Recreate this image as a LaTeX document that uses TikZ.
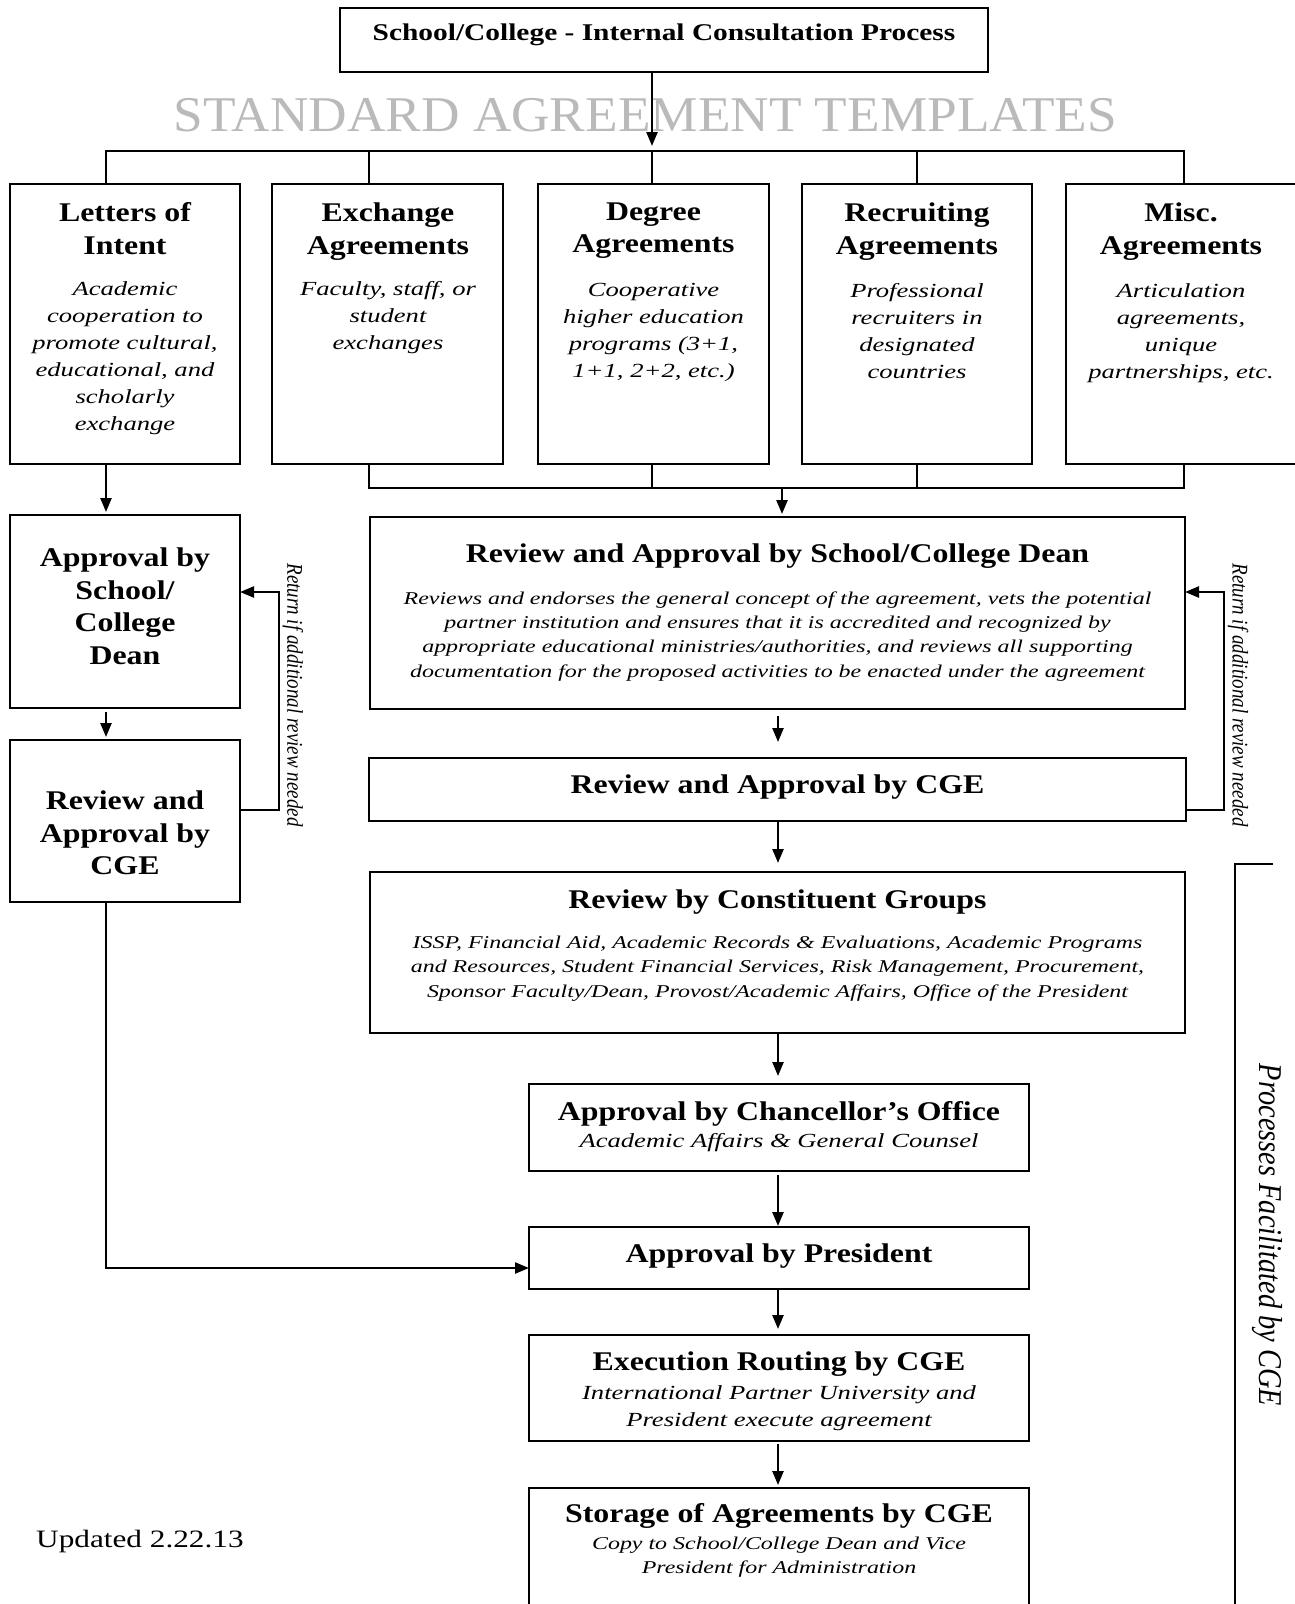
\documentclass[tikz,border=0pt]{standalone}
\usepackage{fontspec}
\setmainfont{Liberation Serif}
\newfontfamily\fTitle[FakeStretch=1.18]{Liberation Serif}
\newfontfamily\fHead[FakeStretch=1.225]{Liberation Serif}
\newfontfamily\fDesc[FakeStretch=1.33]{Liberation Serif}
\newfontfamily\fBig[FakeStretch=1.066]{Liberation Serif}
\newfontfamily\fUpd[FakeStretch=1.25]{Liberation Serif}
\usetikzlibrary{arrows.meta}
\begin{document}
\begin{tikzpicture}[x=1pt,y=-1pt,line width=2.4pt,
  box/.style={draw,line width=2.4pt,inner sep=0,outer sep=0,anchor=north west},
  arr/.style={-{Triangle[length=14pt,width=11pt]},line width=2.4pt},
  ttl/.style={font=\fTitle\bfseries\fontsize{27}{32.5}\selectfont,align=center,inner sep=0},
  dsc/.style={font=\fDesc\itshape\fontsize{20}{27}\selectfont,align=center,inner sep=0},
  dscs/.style={font=\fDesc\itshape\fontsize{18}{24.4}\selectfont,align=center,inner sep=0},
  rottxt/.style={rotate=-90,inner sep=0}]
\useasboundingbox (0,0) rectangle (1294,1604);
\fill[white] (0,0) rectangle (1294,1604);

% top box
\node[box,minimum width=648pt,minimum height=64pt] (top) at (340,8) {};
\node[font=\fHead\bfseries\fontsize{24}{28}\selectfont,inner sep=0,anchor=base] (toptxt) at (664,40.7) {School/College - Internal Consultation Process};
\node[font=\fBig\fontsize{50}{56}\selectfont,text=black!27,inner sep=0,anchor=base] (std) at (645.5,131) {STANDARD AGREEMENT TEMPLATES};

% category boxes
\node[box,minimum width=230pt,minimum height=280pt] (lt1) at (10,184) {};
\node[box,minimum width=231pt,minimum height=280pt] (lt2) at (272,184) {};
\node[box,minimum width=231pt,minimum height=280pt] (lt3) at (538,184) {};
\node[box,minimum width=230pt,minimum height=280pt] (lt4) at (802,184) {};
\node[box,minimum width=232pt,minimum height=280pt] (lt5) at (1066,184) {};

\node[ttl,anchor=north] (lt1t) at (125,201.6) {Letters of\\Intent};
\node[dsc,anchor=north] (lt1d) at (125,280.3) {Academic\\cooperation to\\promote cultural,\\educational, and\\scholarly\\exchange};
\node[ttl,anchor=north] (lt2t) at (388,201.6) {Exchange\\Agreements};
\node[dsc,anchor=north] (lt2d) at (388,280.3) {Faculty, staff, or\\student\\exchanges};
\node[ttl,anchor=north] (lt3t) at (653.5,201.6) {Degree\\Agreements};
\node[dsc,anchor=north] (lt3d) at (653.5,282.5) {Cooperative\\higher education\\programs (3+1,\\1+1, 2+2, etc.)};
\node[ttl,anchor=north] (lt4t) at (917,201.6) {Recruiting\\Agreements};
\node[dsc,anchor=north] (lt4d) at (917,282.3) {Professional\\recruiters in\\designated\\countries};
\node[ttl,anchor=north] (lt5t) at (1181,201.6) {Misc.\\Agreements};
\node[dsc,anchor=north] (lt5d) at (1181,282.3) {Articulation\\agreements,\\unique\\partnerships, etc.};

% bus coordinates
\coordinate (d1) at (106,151);
\coordinate (d2) at (369,151);
\coordinate (d3) at (652,151);
\coordinate (d4) at (917,151);
\coordinate (d5) at (1184,151);
\draw[arr,shorten >=5pt] (top.south -| d3) -- (d3);
\draw (d1 |- lt1.north) -- (d1) -- (d5) -- (d5 |- lt5.north);
\draw (d2) -- (d2 |- lt2.north);
\draw (d3) -- (d3 |- lt3.north);
\draw (d4) -- (d4 |- lt4.north);

\coordinate (e2) at (369,488);
\coordinate (e3) at (652,488);
\coordinate (e4) at (917,488);
\coordinate (e5) at (1184,488);
\coordinate (e0) at (782,488);
\draw (e2 |- lt2.south) -- (e2) -- (e5) -- (e5 |- lt5.south);
\draw (e3 |- lt3.south) -- (e3);
\draw (e4 |- lt4.south) -- (e4);

% left column
\node[box,minimum width=230pt,minimum height=193pt] (l1) at (10,515) {};
\node[ttl,anchor=north] (l1t) at (125,546.6) {Approval by\\School/\\College\\Dean};
\node[box,minimum width=230pt,minimum height=162pt] (l2) at (10,740) {};
\node[ttl,anchor=north] (l2t) at (125,789.6) {Review and\\Approval by\\CGE};

\draw[arr,shorten >=3pt] (d1 |- lt1.south) -- (d1 |- l1.north);
\draw[arr,shorten <=4pt,shorten >=3pt] (d1 |- l1.south) -- (d1 |- l2.north);

\coordinate (rl1) at (279,810);
\coordinate (rl2) at (279,592);
\draw[arr] (l2.east |- rl1) -- (rl1) -- (rl2) -- (l1.east |- rl2);
\node[rottxt,font=\itshape\fontsize{19}{22}\selectfont] (retl) at (293,695) {\scalebox{1}[1.18]{Return if additional review needed}};

% right column
\node[box,minimum width=815pt,minimum height=192pt] (r1) at (370,517) {};
\node[ttl,anchor=base] (r1t) at (777.5,562) {Review and Approval by School/College Dean};
\node[dscs,anchor=north] (r1d) at (777.5,590.3) {Reviews and endorses the general concept of the agreement, vets the potential\\partner institution and ensures that it is accredited and recognized by\\appropriate educational ministries/authorities, and reviews all supporting\\documentation for the proposed activities to be enacted under the agreement};

\node[box,minimum width=817pt,minimum height=63pt] (r2) at (369,758) {};
\node[ttl,anchor=base] (r2t) at (777.5,793) {Review and Approval by CGE};

\node[box,minimum width=815pt,minimum height=161pt] (r3) at (370,872) {};
\node[ttl,anchor=base] (r3t) at (777.5,908) {Review by Constituent Groups};
\node[dscs,anchor=north] (r3d) at (777.5,934.8) {ISSP, Financial Aid, Academic Records \& Evaluations, Academic Programs\\and Resources, Student Financial Services, Risk Management, Procurement,\\Sponsor Faculty/Dean, Provost/Academic Affairs, Office of the President};

\node[box,minimum width=500pt,minimum height=87pt] (r4) at (529,1084) {};
\node[ttl,anchor=base] (r4t) at (779,1120) {Approval by Chancellor’s Office};
\node[dsc,anchor=base] (r4d) at (779,1147) {Academic Affairs \& General Counsel};

\node[box,minimum width=500pt,minimum height=62pt] (r5) at (529,1227) {};
\node[ttl,anchor=base] (r5t) at (779,1262) {Approval by President};

\node[box,minimum width=500pt,minimum height=106pt] (r6) at (529,1335) {};
\node[ttl,anchor=base] (r6t) at (779,1370) {Execution Routing by CGE};
\node[dsc,anchor=north] (r6d) at (779,1384.3) {International Partner University and\\President execute agreement};

\node[box,minimum width=500pt,minimum height=140pt] (r7) at (529,1488) {};
\node[ttl,anchor=base] (r7t) at (779,1522) {Storage of Agreements by CGE};
\node[dscs,anchor=north] (r7d) at (779,1535.3) {Copy to School/College Dean and Vice\\President for Administration};

\draw[arr,shorten >=3pt] (e0) -- (e0 |- r1.north);
\coordinate (ax) at (778,0);
\draw[arr,shorten <=7pt,shorten >=16pt] (ax |- r1.south) -- (ax |- r2.north);
\draw[arr,shorten >=9pt] (ax |- r2.south) -- (ax |- r3.north);
\draw[arr,shorten >=8pt] (ax |- r3.south) -- (ax |- r4.north);
\draw[arr,shorten <=4pt,shorten >=1pt] (ax |- r4.south) -- (ax |- r5.north);
\draw[arr,shorten >=6pt] (ax |- r5.south) -- (ax |- r6.north);
\draw[arr,shorten <=3pt,shorten >=3pt] (ax |- r6.south) -- (ax |- r7.north);

\coordinate (rr1) at (1224,810);
\coordinate (rr2) at (1224,592);
\draw[arr] (r2.east |- rr1) -- (rr1) -- (rr2) -- (r1.east |- rr2);
\node[rottxt,font=\itshape\fontsize{19}{22}\selectfont] (retr) at (1238,695) {\scalebox{1}[1.18]{Return if additional review needed}};

% left bypass to president
\coordinate (pin) at (106,1268);
\draw[arr] (d1 |- l2.south) -- (pin) -- (pin -| r5.west);

% bracket
\coordinate (bt) at (1273,864);
\coordinate (bc) at (1235,864);
\coordinate (bb) at (1235,1620);
\draw (bt) -- (bc) -- (bb);
\node[rottxt,font=\itshape\fontsize{28.4}{32}\selectfont] (proc) at (1267,1235) {\scalebox{1}[1.17]{Processes Facilitated by CGE}};

\node[font=\fUpd\fontsize{25}{30}\selectfont,inner sep=0,anchor=base west] (upd) at (35,1547) {Updated 2.22.13};
\end{tikzpicture}
\end{document}
